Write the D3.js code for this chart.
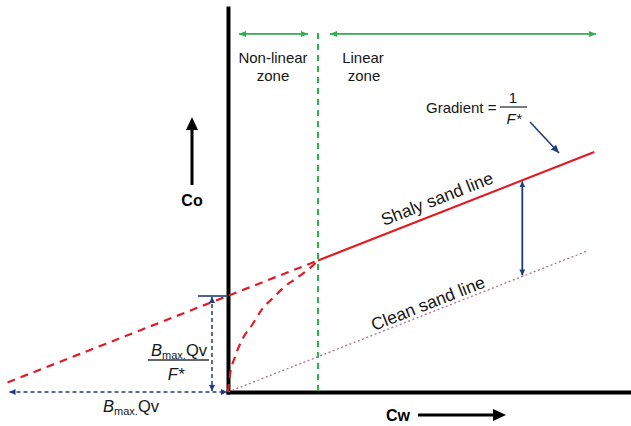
<!DOCTYPE html>
<html><head><meta charset="utf-8">
<script src="https://cdn.jsdelivr.net/npm/d3@7"></script>
<style>body{margin:0;background:#fff}svg{display:block}text{font-family:"Liberation Sans",Arial,sans-serif;fill:#161616}</style>
</head><body><svg id="c" width="631" height="426"></svg>
<script>
// ---- data (Cw on x, Co on y; schematic units) ----
const zoneBoundaryCw = 1;                       // limit between non-linear and linear zone
const shalyLine = [[1, 1.37], [4.07, 2.5]];     // solid linear part
const shalyExtension = [[-2.45, 0.10], [1, 1.37]]; // dashed back-extrapolation
const cleanLine = [[0, 0], [3.98, 1.465]];      // clean sand line through origin
const nonLinearCurve = [[0, 0], [0.022, 0.177], [0.078, 0.365], [0.167, 0.5625], [0.267, 0.698],
  [0.389, 0.875], [0.5, 0.979], [0.611, 1.083], [0.767, 1.19], [0.911, 1.29], [1, 1.37]];
const interceptCo = 1.0;                        // Bmax.Qv / F*
const xInterceptCw = -2.45;                     // Bmax.Qv
const offsetCw = 3.27;                          // where the shaly-clean offset is shown
const axisMax = {cw: 4.48, co: 4.0};
const zoneLabels = [{text: ["Non-linear", "zone"], cw: 0.5}, {text: ["Linear", "zone"], cw: 1.5}];

// ---- scales ----
const x = d3.scaleLinear().domain([0, 1]).range([228, 318]);
const y = d3.scaleLinear().domain([0, 1]).range([392, 296]);

const svg = d3.select("#c");
const defs = svg.append("defs");
function marker(id, color, len, wid) {
  defs.append("marker").attr("id", id)
    .attr("viewBox", `0 0 ${len} ${wid}`).attr("refX", len).attr("refY", wid / 2)
    .attr("markerWidth", len).attr("markerHeight", wid)
    .attr("markerUnits", "userSpaceOnUse").attr("orient", "auto-start-reverse")
    .append("path").attr("d", `M0,0L${len},${wid / 2}L0,${wid}Z`).attr("fill", color);
}
const RED = "#e01b24", GREEN = "#2bb24c", BLUE = "#1f3c7c", MAUVE = "#b4708f";
marker("gArr", GREEN, 7, 6);
marker("bArr", BLUE, 6, 6);
marker("bArr2", BLUE, 8, 7);

const line = d3.line().x(d => x(d[0])).y(d => y(d[1]));

// ---- axes ----
const xa = x.copy().domain([0, axisMax.cw]).range([x(0), x(axisMax.cw)]);
const ya = y.copy().domain([0, axisMax.co]).range([y(0), y(axisMax.co)]);
const gx = svg.append("g").attr("transform", `translate(0,${y(0)})`)
  .call(d3.axisBottom(xa).tickValues([]).tickSizeOuter(0));
const gy = svg.append("g").attr("transform", `translate(${x(0)},0)`)
  .call(d3.axisLeft(ya).tickValues([]).tickSizeOuter(0));
[gx, gy].forEach(g => g.select(".domain").attr("stroke", "#000").attr("stroke-width", 4).attr("stroke-linecap", "square"));

// ---- zone boundary ----
svg.append("line").attr("x1", x(zoneBoundaryCw)).attr("x2", x(zoneBoundaryCw))
  .attr("y1", y(3.74)).attr("y2", y(0))
  .attr("stroke", GREEN).attr("stroke-width", 2).attr("stroke-dasharray", "6,5");

// zone arrows
[[0.122, 0.889], [1.133, 4.09]].forEach(([a, b]) => {
  svg.append("line").attr("x1", x(a)).attr("x2", x(b)).attr("y1", y(3.73)).attr("y2", y(3.73))
    .attr("stroke", GREEN).attr("stroke-width", 1.6)
    .attr("marker-start", "url(#gArr)").attr("marker-end", "url(#gArr)");
});
// zone labels
svg.append("text").attr("x", x(0.5)).attr("y", 63).attr("text-anchor", "middle").attr("font-size", 15)
  .selectAll("tspan").data(zoneLabels[0].text).join("tspan")
  .attr("x", x(0.5)).attr("dy", (d, i) => i ? 18 : 0).text(d => d);
svg.append("text").attr("x", x(1.5)).attr("y", 63).attr("text-anchor", "middle").attr("font-size", 15)
  .selectAll("tspan").data(zoneLabels[1].text).join("tspan")
  .attr("x", (d, i) => x(1.5) + (i ? 1 : 0)).attr("dy", (d, i) => i ? 18 : 0).text(d => d);

// ---- clean sand line ----
svg.append("path").attr("d", line(cleanLine)).attr("fill", "none")
  .attr("stroke", MAUVE).attr("stroke-width", 1.3).attr("stroke-dasharray", "2,2.5");

// ---- shaly sand ----
svg.append("path").attr("d", line(shalyExtension)).attr("fill", "none")
  .attr("stroke", RED).attr("stroke-width", 2.2).attr("stroke-dasharray", "8,6");
svg.append("path").attr("d", line.curve(d3.curveMonotoneX)(nonLinearCurve)).attr("fill", "none")
  .attr("stroke", RED).attr("stroke-width", 2.2).attr("stroke-dasharray", "8,6");
line.curve(d3.curveLinear);
svg.append("path").attr("d", line(shalyLine)).attr("fill", "none")
  .attr("stroke", RED).attr("stroke-width", 2.2);

// ---- offset arrow between lines ----
const slope = (shalyLine[1][1] - shalyLine[0][1]) / (shalyLine[1][0] - shalyLine[0][0]);
const cleanSlope = cleanLine[1][1] / cleanLine[1][0];
svg.append("line").attr("x1", x(offsetCw)).attr("x2", x(offsetCw))
  .attr("y1", y(interceptCo + slope * offsetCw) + 1).attr("y2", y(cleanSlope * offsetCw) - 1)
  .attr("stroke", BLUE).attr("stroke-width", 1.8)
  .attr("marker-start", "url(#bArr)").attr("marker-end", "url(#bArr)");

// ---- intercept (Bmax.Qv / F*) ----
svg.append("line").attr("x1", x(-0.333)).attr("x2", x(0)).attr("y1", y(interceptCo)).attr("y2", y(interceptCo))
  .attr("stroke", BLUE).attr("stroke-width", 1.6);
svg.append("line").attr("x1", x(-0.178)).attr("x2", x(-0.178))
  .attr("y1", y(interceptCo) + 1).attr("y2", y(0) - 1)
  .attr("stroke", BLUE).attr("stroke-width", 1.5).attr("stroke-dasharray", "4,3")
  .attr("marker-start", "url(#bArr)").attr("marker-end", "url(#bArr)");
// horizontal Bmax.Qv
svg.append("line").attr("x1", x(xInterceptCw) + 2).attr("x2", x(0) - 1)
  .attr("y1", y(0)).attr("y2", y(0))
  .attr("stroke", BLUE).attr("stroke-width", 1.5).attr("stroke-dasharray", "4,3")
  .attr("marker-start", "url(#bArr)").attr("marker-end", "url(#bArr)");

function bmax(sel, cx, by) {
  const t = sel.append("text").attr("x", cx).attr("y", by).attr("text-anchor", "middle").attr("font-size", 16.5);
  t.append("tspan").attr("font-style", "italic").text("B");
  t.append("tspan").attr("font-size", 11).attr("dy", 3).text("max.");
  t.append("tspan").attr("dy", -3).text("Qv");
  return t;
}
bmax(svg, 179, 356);
svg.append("line").attr("x1", 148).attr("x2", 209).attr("y1", 360).attr("y2", 360).attr("stroke", "#333").attr("stroke-width", 1.3);
svg.append("text").attr("x", 176).attr("y", 380).attr("text-anchor", "middle").attr("font-size", 16.5)
  .attr("font-style", "italic").text("F*");
bmax(svg, 131, 412);

// ---- line labels ----
const ang = -Math.atan(slope * (y(0) - y(1)) / (x(1) - x(0))) * 180 / Math.PI;
svg.append("text").attr("transform", `translate(384,226) rotate(${ang})`).attr("font-size", 17.5).text("Shaly sand line");
svg.append("text").attr("transform", `translate(374,331) rotate(${ang})`).attr("font-size", 17.5).text("Clean sand line");

// ---- gradient annotation ----
svg.append("text").attr("x", 426).attr("y", 113).attr("font-size", 15).text("Gradient =");
svg.append("text").attr("x", 513).attr("y", 103).attr("text-anchor", "middle").attr("font-size", 15).text("1");
svg.append("line").attr("x1", 500).attr("x2", 527).attr("y1", 107).attr("y2", 107).attr("stroke", "#333").attr("stroke-width", 1.3);
svg.append("text").attr("x", 514).attr("y", 124).attr("text-anchor", "middle").attr("font-size", 15).attr("font-style", "italic").text("F*");
svg.append("line").attr("x1", x(3.356)).attr("y1", y(2.8125)).attr("x2", x(3.678)).attr("y2", y(2.49))
  .attr("stroke", BLUE).attr("stroke-width", 1.6).attr("marker-end", "url(#bArr2)");

// ---- axis titles with arrows ----
svg.append("line").attr("x1", 192).attr("x2", 192).attr("y1", 185).attr("y2", 128).attr("stroke", "#000").attr("stroke-width", 3);
svg.append("path").attr("d", "M192,117L198,130L186,130Z").attr("fill", "#000");
svg.append("text").attr("x", 192).attr("y", 206).attr("text-anchor", "middle").attr("font-size", 16)
  .attr("font-weight", "bold").style("fill", "#000").text("Co");

svg.append("line").attr("x1", 418).attr("x2", 494).attr("y1", 415).attr("y2", 415).attr("stroke", "#000").attr("stroke-width", 3);
svg.append("path").attr("d", "M506,415L493,409L493,421Z").attr("fill", "#000");
svg.append("text").attr("x", 386).attr("y", 421).attr("font-size", 16)
  .attr("font-weight", "bold").style("fill", "#000").text("Cw");
</script></body></html>
